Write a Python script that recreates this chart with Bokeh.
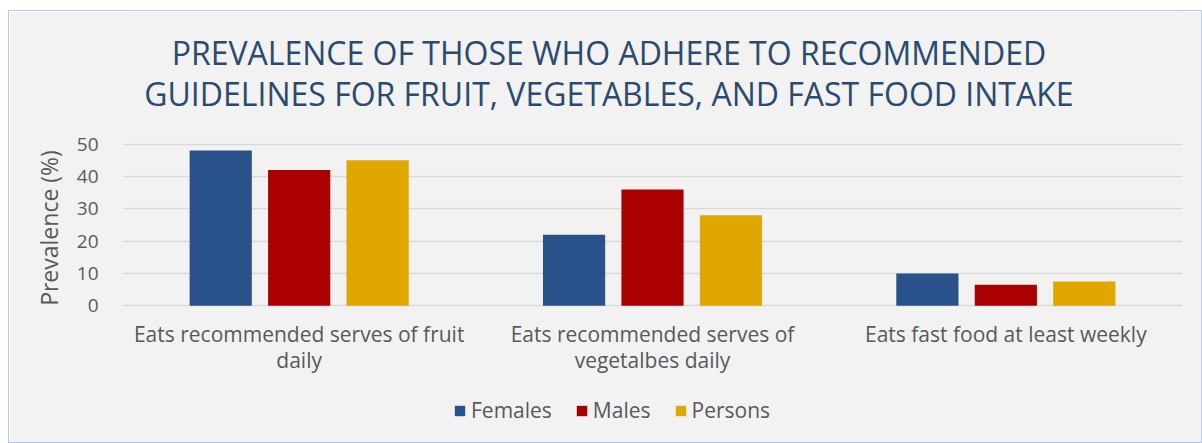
from bokeh.plotting import figure
from bokeh.models import Legend, LegendItem, Label, FixedTicker, Range1d, ColumnDataSource
from bokeh.core.properties import value
from bokeh.transform import dodge
from bokeh.embed import file_html
from bokeh.resources import INLINE

# ---- data ----
categories = ["Eats recommended serves of fruit\ndaily",
              "Eats recommended serves of\nvegetalbes daily",
              "Eats fast food at least weekly"]
series_names = ["Females", "Males", "Persons"]
females = [48, 22, 10]
males = [42, 36, 6.5]
persons = [45, 28, 7.5]
y_ticks = [0, 10, 20, 30, 40, 50]
title_lines = ["PREVALENCE OF THOSE WHO ADHERE TO RECOMMENDED",
               "GUIDELINES FOR FRUIT, VEGETABLES, AND FAST FOOD INTAKE"]
y_label = "Prevalence (%)"

colors = ["#29518a", "#ab0000", "#e0a700"]
FONT = "Open Sans"
GREY = "#595959"

# layout helpers (pixels -> data units; frame spans the whole chart area)
PX_PER_UNIT = 161 / 50.0          # vertical scale: 50 units over 161 px
Y_TOP = 50 + 132 / PX_PER_UNIT    # frame top, above the value 50 gridline
Y_BOT = -138 / PX_PER_UNIT        # frame bottom, below the zero line
X_MAX = len(categories)

xpos = [i + 0.5 for i in range(len(categories))]
src = ColumnDataSource(dict(x=xpos, Females=females, Males=males, Persons=persons, cat=categories))

p = figure(width=1194, height=433, output_backend="svg", toolbar_location=None,
           x_axis_location=None,
           x_range=Range1d(0, X_MAX), y_range=Range1d(Y_BOT, Y_TOP),
           min_border_left=113, min_border_right=21, min_border_top=0, min_border_bottom=0)
p.margin = (10, 0, 0, 8)
p.background_fill_color = "#f2f2f2"
p.border_fill_color = "#f2f2f2"
p.outline_line_color = None
p.styles = {"border": "1px solid #b4c7e7", "box-sizing": "border-box"}

offsets = [-0.222, 0.0, 0.222]
renderers = []
for name, off, col in zip(series_names, offsets, colors):
    r = p.vbar(x=dodge("x", off, range=p.x_range), top=name, width=0.176, source=src,
               fill_color=col, line_color=None)
    renderers.append(r)

# category labels (x axis)
p.text(x="x", y=-4.3, text="cat", source=src, text_align="center", text_baseline="top",
       text_font=value(FONT), text_font_size="21px", text_color=GREY, text_line_height=0.95)

# y axis
p.yaxis.ticker = FixedTicker(ticks=y_ticks)
p.yaxis.axis_line_color = None
p.yaxis.major_tick_line_color = None
p.yaxis.minor_tick_line_color = None
p.yaxis.major_label_text_font = FONT
p.yaxis.major_label_text_font_size = "19px"
p.yaxis.major_label_text_color = GREY
p.yaxis.major_label_standoff = 18
p.yaxis.axis_label = y_label
p.yaxis.axis_label_text_font = FONT
p.yaxis.axis_label_text_font_size = "23px"
p.yaxis.axis_label_text_font_style = "normal"
p.yaxis.axis_label_text_color = GREY
p.yaxis.axis_label_standoff = 9

for g in p.grid:
    if g.dimension == 0:
        g.grid_line_color = None
    else:
        g.ticker = FixedTicker(ticks=y_ticks)
        g.grid_line_color = "#d9d9d9"
        g.grid_line_width = 1.5

# title (two lines)
for line, off_px in zip(title_lines, [91, 50]):
    p.add_layout(Label(x=(607.5 - 122) / 352.67, y=50 + off_px / PX_PER_UNIT, text=line,
                       text_align="center", text_baseline="alphabetic",
                       text_font=FONT, text_font_size="32px", text_color="#2a4a70"))

# legend
legend = Legend(items=[LegendItem(label=n, renderers=[r]) for n, r in zip(series_names, renderers)],
                orientation="horizontal", location=(331, 20),
                background_fill_alpha=0, border_line_color=None,
                label_text_font=FONT, label_text_font_size="21px", label_text_color=GREY,
                glyph_width=13, glyph_height=13, label_standoff=5, spacing=23,
                padding=0, margin=0)
p.add_layout(legend, "center")

open("out.html", "w").write(file_html(p, INLINE))
